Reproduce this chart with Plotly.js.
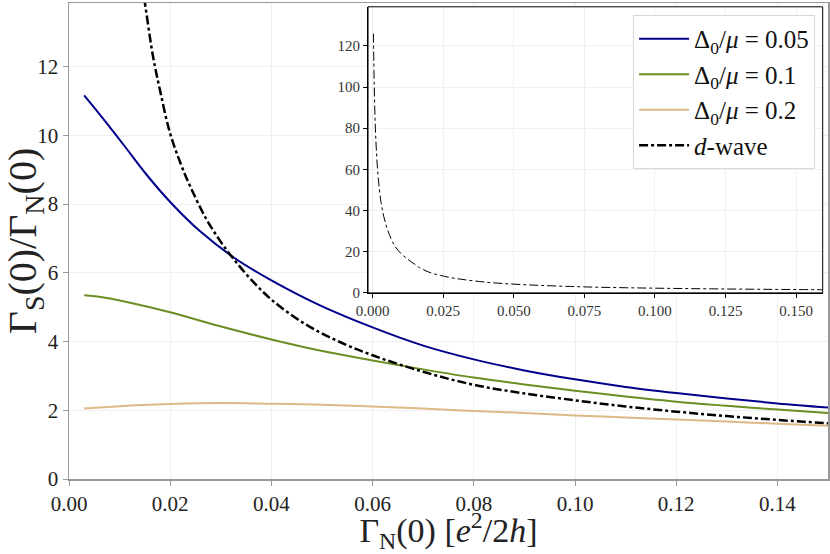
<!DOCTYPE html>
<html>
<head>
<meta charset="utf-8">
<script src="https://cdn.plot.ly/plotly-3.0.1.min.js"></script>
<style>
  html, body { margin: 0; padding: 0; background: #fff; }
  #plot { width: 830px; height: 554px; }
</style>
</head>
<body>
<div id="plot"></div>
<script>
// Delta0/mu = 0.05
var x005 = [0.003, 0.0061, 0.0107, 0.0153, 0.02, 0.0258, 0.0327, 0.04, 0.0495, 0.06, 0.07, 0.08, 0.09, 0.10, 0.11, 0.12, 0.13, 0.14, 0.15];
var y005 = [11.16, 10.60, 9.74, 8.86, 8.06, 7.22, 6.43, 5.78, 5.06, 4.41, 3.88, 3.48, 3.16, 2.90, 2.68, 2.50, 2.34, 2.20, 2.08];

// Delta0/mu = 0.1
var x01 = [0.003, 0.006, 0.0114, 0.02, 0.0297, 0.04, 0.0508, 0.06, 0.07, 0.08, 0.09, 0.10, 0.11, 0.12, 0.13, 0.14, 0.15];
var y01 = [5.35, 5.30, 5.15, 4.85, 4.45, 4.06, 3.70, 3.45, 3.19, 2.95, 2.75, 2.57, 2.40, 2.25, 2.13, 2.02, 1.92];

// Delta0/mu = 0.2
var x02 = [0.003, 0.01, 0.02, 0.03, 0.04, 0.05, 0.06, 0.07, 0.08, 0.09, 0.10, 0.11, 0.12, 0.13, 0.14, 0.15];
var y02 = [2.05, 2.12, 2.18, 2.21, 2.19, 2.16, 2.11, 2.05, 1.98, 1.92, 1.85, 1.79, 1.73, 1.67, 1.61, 1.55];

// d-wave (shared by main plot and inset)
var xd = [0.0003, 0.0005, 0.0007, 0.001, 0.0014, 0.002, 0.003, 0.004, 0.005, 0.0065, 0.008, 0.010, 0.012, 0.0135,
          0.015, 0.0166, 0.018, 0.0199, 0.022, 0.024, 0.027, 0.030, 0.0327, 0.036, 0.04, 0.0462, 0.0527, 0.06,
          0.07, 0.08, 0.09, 0.10, 0.11, 0.12, 0.13, 0.14, 0.15, 0.16];
var yd = [126, 108, 94, 80, 68, 56, 44, 37, 32, 26.5, 22.5, 19.2, 16.8, 15.3,
          13.85, 12.3, 11.3, 10.1, 9.2, 8.5, 7.6, 6.9, 6.37, 5.8, 5.22, 4.55, 4.04, 3.60,
          3.12, 2.74, 2.49, 2.29, 2.11, 1.96, 1.83, 1.72, 1.62, 1.54];

var names = ["Δ<sub>0</sub>/<i>μ</i> = 0.05", "Δ<sub>0</sub>/<i>μ</i> = 0.1", "Δ<sub>0</sub>/<i>μ</i> = 0.2", "<i>d</i>-wave"];

var insetTicksX = [0, 0.025, 0.05, 0.075, 0.10, 0.125, 0.15];
var insetTickTextX = ["0.000", "0.025", "0.050", "0.075", "0.100", "0.125", "0.150"];
var insetTicksY = [0, 20, 40, 60, 80, 100, 120];

var serif = "Liberation Serif";

// inset placement (fractions of the plot area)
var insetX = [0.394, 0.993];
var insetY = [0.391, 0.992];

var traces = [
    {x: x005, y: y005, type: "scatter", mode: "lines", name: names[0],
     line: {color: "#00008b", width: 2, shape: "spline"}},
    {x: x01, y: y01, type: "scatter", mode: "lines", name: names[1],
     line: {color: "#6b8e23", width: 2, shape: "spline"}},
    {x: x02, y: y02, type: "scatter", mode: "lines", name: names[2],
     line: {color: "#deb887", width: 2, shape: "spline"}},
    {x: xd, y: yd, type: "scatter", mode: "lines", name: names[3],
     line: {color: "#000000", width: 2.5, dash: "dashdot", shape: "spline"}},
    // inset
    {x: xd, y: yd, xaxis: "x2", yaxis: "y2", type: "scatter", mode: "lines", showlegend: false,
     line: {color: "#000000", width: 1, dash: "dashdot", shape: "spline"}}
];

var layout = {
    width: 830,
    height: 554,
    paper_bgcolor: "#ffffff",
    plot_bgcolor: "#ffffff",
    margin: {l: 69, r: 2, t: 3, b: 75},
    font: {family: serif, size: 15, color: "#222"},
    showlegend: true,
    legend: {
        x: 0.983, y: 0.975, xanchor: "right", yanchor: "top",
        itemwidth: 50,
        bgcolor: "#ffffff",
        bordercolor: "#d8d8d8",
        borderwidth: 1,
        font: {family: serif, size: 25, color: "#111"}
    },
    xaxis: {
        range: [0, 0.15],
        tickvals: [0, 0.02, 0.04, 0.06, 0.08, 0.10, 0.12, 0.14],
        ticktext: ["0.00", "0.02", "0.04", "0.06", "0.08", "0.10", "0.12", "0.14"],
        showline: true, linecolor: "#999", linewidth: 1.5, mirror: true,
        ticks: "outside", ticklen: 5, tickcolor: "#999",
        showgrid: true, gridcolor: "#f0f0f0", gridwidth: 1,
        zeroline: false,
        tickfont: {family: serif, size: 21},
        title: {text: "Γ<sub>N</sub>(0) [<i>e</i><sup>2</sup>/2<i>h</i>]", font: {family: serif, size: 34}, standoff: 15}
    },
    yaxis: {
        range: [0, 13.85],
        tickvals: [0, 2, 4, 6, 8, 10, 12],
        showline: true, linecolor: "#999", linewidth: 1.5, mirror: true,
        ticks: "outside", ticklen: 5, tickcolor: "#999",
        showgrid: true, gridcolor: "#f0f0f0", gridwidth: 1,
        zeroline: false,
        tickfont: {family: serif, size: 21},
        title: {text: "Γ<sub>S</sub>(0)/Γ<sub>N</sub>(0)", font: {family: serif, size: 40}, standoff: 3}
    },
    xaxis2: {
        domain: insetX, anchor: "y2",
        range: [-0.0016, 0.1594],
        tickmode: "array",
        tickvals: insetTicksX,
        ticktext: insetTickTextX,
        showline: true, linecolor: "#000", linewidth: 1,
        ticks: "outside", ticklen: 4, tickcolor: "#000",
        showgrid: true, gridcolor: "#f0f0f0",
        zeroline: false,
        tickfont: {family: serif, size: 15, color: "#333"}
    },
    yaxis2: {
        domain: insetY, anchor: "x2",
        range: [0, 139],
        tickmode: "array",
        tickvals: insetTicksY,
        showline: true, linecolor: "#000", linewidth: 1,
        ticks: "outside", ticklen: 4, tickcolor: "#000",
        showgrid: true, gridcolor: "#f0f0f0",
        zeroline: false,
        tickfont: {family: serif, size: 15, color: "#333"}
    },
    shapes: [
        // thin black frame round the inset
        {type: "rect", xref: "paper", yref: "paper",
         x0: insetX[0], x1: insetX[1], y0: insetY[0], y1: insetY[1],
         line: {color: "#000", width: 1}, fillcolor: "rgba(0,0,0,0)", layer: "above"}
    ]
};

Plotly.newPlot("plot", traces, layout, {displayModeBar: false, staticPlot: true});
</script>
</body>
</html>
